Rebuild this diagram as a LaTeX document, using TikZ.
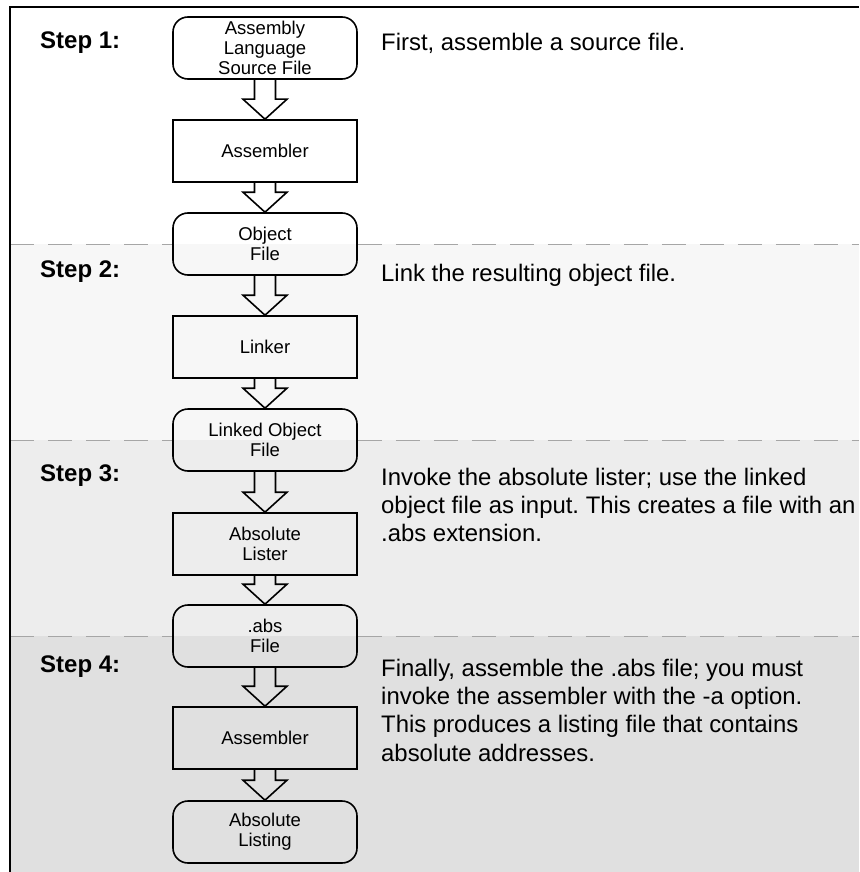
\documentclass[tikz,border=0pt]{standalone}
\usepackage{fontspec}
\setmainfont{Liberation Sans}
\usetikzlibrary{calc}
\frenchspacing

\tikzset{
  box/.style={draw, line width=1.6pt, minimum width=184pt, minimum height=62pt,
    align=center, inner sep=1pt, font=\fontsize{18.5}{20}\selectfont},
  filebox/.style={box, rounded corners=15pt},
  progbox/.style={box},
  flowarrow/.style={draw, line width=1.6pt, line join=miter},
  steplabel/.style={anchor=west, inner sep=0pt, font=\fontsize{24}{28}\selectfont\bfseries},
  note/.style={anchor=west, inner sep=0pt, align=left, font=\fontsize{23.9}{28.3}\selectfont},
  bandline/.style={draw=gray!70, line width=1pt, dash pattern=on 24pt off 14pt}
}

% block arrow from one box down to the next
\newcommand{\flowarrow}[2]{%
  \draw[flowarrow] ($(#1.south)+(-10.5,0)$) -- ($(#2.north)+(-10.5,-20)$)
    -- ($(#2.north)+(-22,-20)$) -- (#2.north) -- ($(#2.north)+(22,-20)$)
    -- ($(#2.north)+(10.5,-20)$) -- ($(#1.south)+(10.5,0)$);}

\begin{document}
\begin{tikzpicture}[x=1pt, y=-1pt]
\useasboundingbox (0,0) rectangle (859,872);

% shaded bands
\fill[gray!6]  (10,244) rectangle (859,440);
\fill[gray!14] (10,440) rectangle (859,636);
\fill[gray!24] (10,636) rectangle (859,872);

\begin{scope}[every node/.style={filebox}]
    \node (src)  at (265,48)  {Assembly\\Language\\Source File};
    \node (obj)  at (265,244) {Object\\File};
    \node (lobj) at (265,440) {Linked Object\\File};
    \node (absf) at (265,636) {.abs\\File};
    \node (lst)  at (265,832) {Absolute\\Listing};
\end{scope}

\begin{scope}[every node/.style={progbox}]
    \node (asmA) at (265,151) {Assembler};
    \node (lnk)  at (265,347) {Linker};
    \node (alst) at (265,544) {Absolute\\Lister};
    \node (asmB) at (265,738) {Assembler};
\end{scope}

\flowarrow{src}{asmA}
\flowarrow{asmA}{obj}
\flowarrow{obj}{lnk}
\flowarrow{lnk}{lobj}
\flowarrow{lobj}{alst}
\flowarrow{alst}{absf}
\flowarrow{absf}{asmB}
\flowarrow{asmB}{lst}

% dashed step boundaries
\coordinate (left) at (10,0);
\coordinate (right) at (859,0);
\foreach \b in {obj,lobj,absf} {
    \draw[bandline] (\b.west -| left) -- (\b.west);
    \draw[bandline] (\b.east) -- (\b.east -| right);
}

% frame
\draw[line width=2pt] (10,872) -- (10,7) -- (859,7);

\node[steplabel] (s1) at (40,43)  {Step 1:};
\node[steplabel] (s2) at (40,272) {Step 2:};
\node[steplabel] (s3) at (40,476) {Step 3:};
\node[steplabel] (s4) at (40,667) {Step 4:};

\node[note] (t1) at (381,43)  {First, assemble a source file.};
\node[note] (t2) at (381,275) {Link the resulting object file.};
\node[note] (t3) at (381,505) {Invoke the absolute lister; use the linked\\
    object file as input. This creates a file with an\\.abs extension.};
\node[note] (t4) at (381,710) {Finally, assemble the .abs file; you must\\
    invoke the assembler with the -a option.\\
    This produces a listing file that contains\\absolute addresses.};
\end{tikzpicture}
\end{document}
